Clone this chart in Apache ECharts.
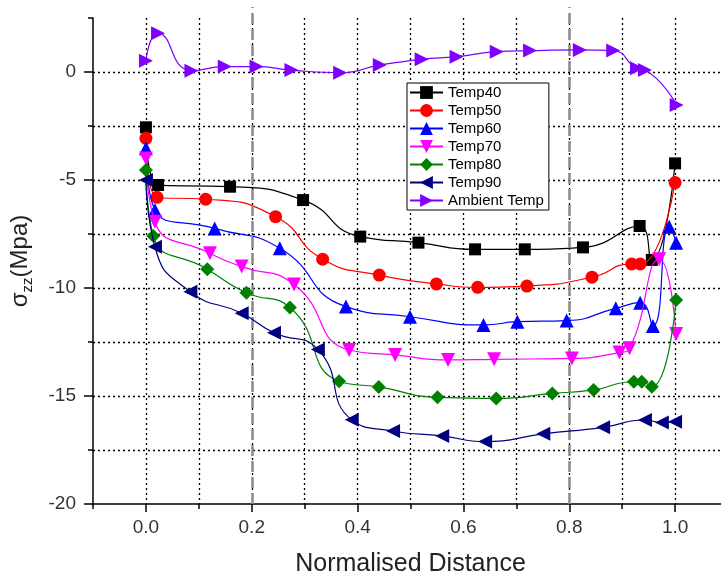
<!DOCTYPE html>
<html>
<head>
<meta charset="utf-8">
<script src="https://cdn.jsdelivr.net/npm/echarts@6/dist/echarts.min.js"></script>
<style>html,body{margin:0;padding:0;background:#fff;}#c{width:721px;height:581px;}</style>
</head>
<body>
<div id="c"></div>
<script>
// ---- data ----
const seriesNames = ['Temp40','Temp50','Temp60','Temp70','Temp80','Temp90','Ambient Temp'];

const t40x = [0, 0.023, 0.159, 0.297, 0.405, 0.515, 0.622, 0.716, 0.826, 0.933, 0.956, 1.0];
const t40y = [-2.56, -5.23, -5.31, -5.93, -7.62, -7.90, -8.21, -8.21, -8.12, -7.13, -8.70, -4.23];

const t50x = [0, 0.021, 0.113, 0.245, 0.334, 0.441, 0.549, 0.627, 0.72, 0.843, 0.918, 0.934, 1.0];
const t50y = [-3.07, -5.80, -5.89, -6.70, -8.67, -9.40, -9.81, -9.97, -9.91, -9.50, -8.89, -8.89, -5.12];

const t60x = [0, 0.017, 0.13, 0.253, 0.378, 0.499, 0.638, 0.702, 0.795, 0.888, 0.934, 0.958, 0.989, 1.002];
const t60y = [-3.53, -6.39, -7.24, -8.16, -10.86, -11.33, -11.71, -11.56, -11.51, -10.94, -10.68, -11.76, -7.16, -7.90];

const t70x = [0, 0.017, 0.121, 0.181, 0.28, 0.384, 0.471, 0.571, 0.658, 0.805, 0.895, 0.914, 0.97, 1.002];
const t70y = [-4.0, -6.93, -8.39, -9.01, -9.84, -12.87, -13.1, -13.33, -13.30, -13.26, -12.99, -12.79, -8.67, -12.13];

const t80x = [0, 0.014, 0.116, 0.19, 0.272, 0.365, 0.44, 0.551, 0.662, 0.768, 0.846, 0.922, 0.937, 0.956, 1.002];
const t80y = [-4.54, -7.59, -9.13, -10.22, -10.9, -14.32, -14.58, -15.06, -15.11, -14.88, -14.72, -14.34, -14.34, -14.57, -10.56];

const t90x = [0, 0.017, 0.084, 0.181, 0.242, 0.325, 0.389, 0.467, 0.56, 0.641, 0.751, 0.864, 0.943, 0.975, 1.0];
const t90y = [-5.0, -8.09, -10.17, -11.17, -12.07, -12.85, -16.1, -16.62, -16.85, -17.11, -16.75, -16.45, -16.11, -16.23, -16.19];

const ambX = [0, 0.023, 0.086, 0.149, 0.209, 0.275, 0.367, 0.442, 0.521, 0.587, 0.663, 0.726, 0.82, 0.883, 0.928, 0.943, 1.003];
const ambY = [0.52, 1.79, 0.06, 0.25, 0.25, 0.09, -0.03, 0.32, 0.59, 0.71, 0.94, 0.99, 1.02, 0.99, 0.17, 0.09, -1.53];

const xLabelValues = [0, 0.2, 0.4, 0.6, 0.8, 1.0];
const yLabelValues = [-20, -15, -10, -5, 0];
const boundaryLines = [0.2, 0.8];

// ---- styling ----
const FONT = 'Liberation Sans, Arial, sans-serif';
const colors = ['#000000', '#FF0000', '#0000FF', '#FF00FF', '#008000', '#000080', '#8000FF'];
const symbols = [
  'rect',
  'circle',
  'triangle',
  'path://M0,0L10,0L5,9Z',
  'diamond',
  'path://M0,5L9,0L9,10Z',
  'path://M0,0L9,5L0,10Z'
];
const sizes = [12, 13, 14, 14, 14, 14, 14];
const xsList = [t40x, t50x, t60x, t70x, t80x, t90x, ambX];
const ysList = [t40y, t50y, t60y, t70y, t80y, t90y, ambY];

const zip = (xs, ys) => xs.map((x, i) => [x, ys[i]]);

const lineSeries = seriesNames.map((name, i) => ({
  name: name,
  type: 'line',
  xAxisIndex: 0,
  yAxisIndex: 0,
  data: zip(xsList[i], ysList[i]),
  smooth: 0.55,
  symbol: symbols[i],
  symbolSize: sizes[i],
  showAllSymbol: true,
  lineStyle: { color: colors[i], width: 1.2 },
  itemStyle: { color: colors[i] },
  z: 3 + i
}));

const GL = 93, GW = 635, GB = 77;

const option = {
  animation: false,
  backgroundColor: '#fff',
  textStyle: { fontFamily: FONT },
  grid: [
    { left: GL, width: GW, top: 18, bottom: GB, outerBoundsMode: 'none', containLabel: false },
    { left: GL, width: GW, top: 7, bottom: GB, outerBoundsMode: 'none', containLabel: false }
  ],
  legend: {
    data: seriesNames,
    orient: 'vertical',
    left: 407,
    top: 83,
    itemWidth: 33,
    itemHeight: 16,
    itemGap: 3,
    padding: [2, 5, 2, 2],
    borderColor: '#000',
    borderWidth: 1,
    backgroundColor: '#fff',
    textStyle: { fontFamily: FONT, fontSize: 15, color: '#000' },
    z: 20
  },
  xAxis: [
    {
      gridIndex: 0, type: 'value', min: -0.1, max: 1.1, interval: 0.1, position: 'bottom',
      name: 'Normalised Distance', nameLocation: 'middle', nameGap: 48,
      nameTextStyle: { fontFamily: FONT, fontSize: 25, color: '#222' },
      axisLine: { onZero: false, lineStyle: { color: '#000', width: 1.5 } },
      axisTick: { length: 5, lineStyle: { color: '#000', width: 1.5 } },
      axisLabel: { show: false },
      splitLine: { show: true, showMinLine: false, lineStyle: { color: '#000', type: [2, 3], width: 1.3 } }
    },
    {
      gridIndex: 0, type: 'value', min: -0.1, max: 1.1, position: 'bottom',
      axisLine: { show: false, onZero: false },
      axisTick: { show: true, customValues: xLabelValues, length: 8, lineStyle: { color: '#000', width: 1.5 } },
      axisLabel: { customValues: xLabelValues, margin: 14, fontFamily: FONT, fontSize: 19, color: '#333',
        formatter: v => v.toFixed(1) },
      splitLine: { show: false }
    },
    { gridIndex: 1, type: 'value', min: -0.1, max: 1.1, show: false }
  ],
  yAxis: [
    {
      gridIndex: 0, type: 'value', min: -20, max: 2.5, interval: 2.5,
      name: '{a|σ}{b|zz}{a|(Mpa)}', nameLocation: 'middle', nameGap: 58, nameRotate: 90,
      nameTextStyle: {
        rich: {
          a: { fontFamily: FONT, fontSize: 24, color: '#222', lineHeight: 30, verticalAlign: 'middle' },
          b: { fontFamily: FONT, fontSize: 15, color: '#222', lineHeight: 15, verticalAlign: 'bottom' }
        }
      },
      axisLine: { onZero: false, lineStyle: { color: '#000', width: 1.5 } },
      axisTick: { length: 5, lineStyle: { color: '#000', width: 1.5 } },
      axisLabel: { show: false },
      splitLine: { show: true, showMaxLine: false, showMinLine: false, lineStyle: { color: '#000', type: [2, 3], width: 1.3 } }
    },
    {
      gridIndex: 0, type: 'value', min: -20, max: 2.5, position: 'left',
      axisLine: { show: false, onZero: false },
      axisTick: { show: true, customValues: yLabelValues, length: 9, lineStyle: { color: '#000', width: 1.5 } },
      axisLabel: { customValues: yLabelValues, margin: 17, fontFamily: FONT, fontSize: 19, color: '#333' },
      splitLine: { show: false }
    },
    { gridIndex: 1, type: 'value', min: -20, max: 3, show: false }
  ],
  series: [
    {
      type: 'line', xAxisIndex: 2, yAxisIndex: 2, data: [], silent: true, z: 2,
      markLine: {
        silent: true, symbol: 'none', label: { show: false },
        lineStyle: { color: '#8a8a8a', type: [11, 5], width: 2.5 },
        data: boundaryLines.map(v => ({ xAxis: v }))
      }
    }
  ].concat(lineSeries)
};

const chart = echarts.init(document.getElementById('c'), null, { renderer: 'canvas' });
chart.setOption(option);
</script>
</body>
</html>
